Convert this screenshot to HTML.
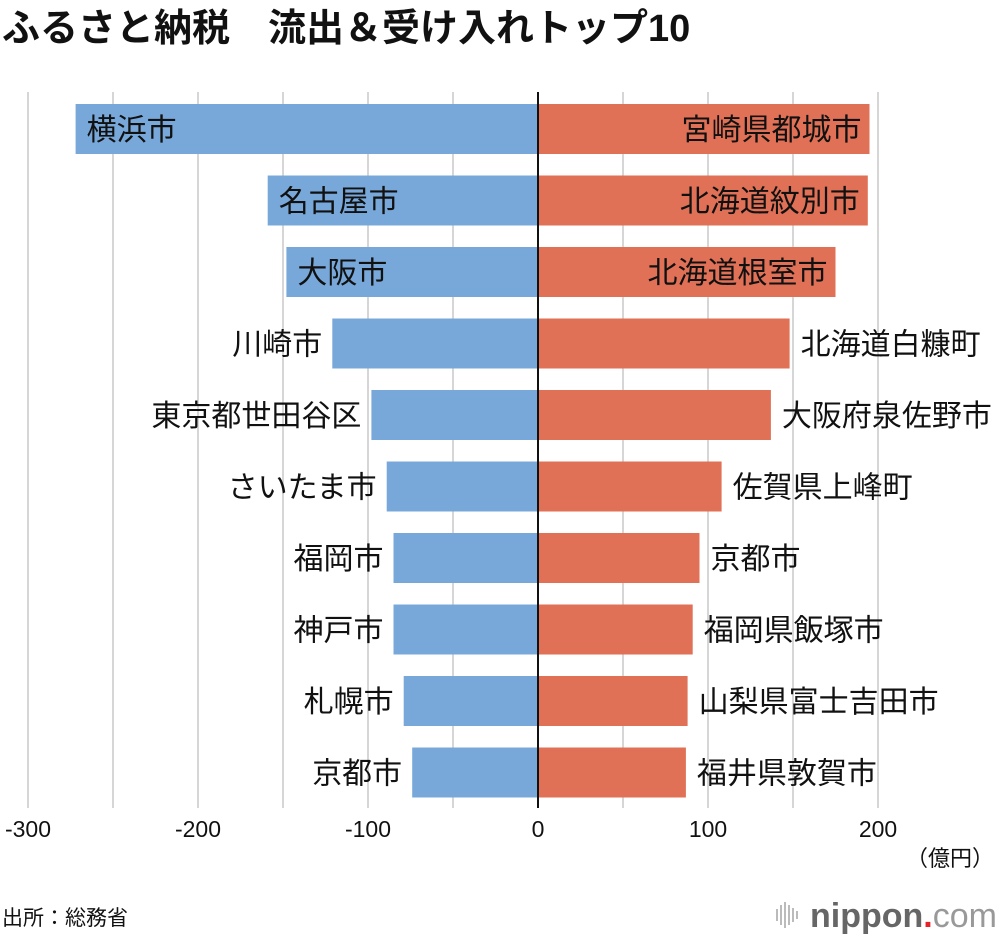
<!DOCTYPE html>
<html><head><meta charset="utf-8">
<style>
html,body{margin:0;padding:0;background:#fff;width:1000px;height:936px;overflow:hidden}
svg{display:block;font-family:"Liberation Sans","Noto Sans CJK JP",sans-serif}
</style></head><body>
<svg id="chart" width="1000" height="936" viewBox="0 0 1000 936">
<text x="2" y="41" font-size="38" font-weight="bold" fill="#111">ふるさと納税　流出＆受け入れトップ10</text>
<g id="grid"></g><g id="bars"></g><g id="labels"></g><g id="ticks"></g>
<text x="994" y="866" font-size="22" text-anchor="end" fill="#111">（億円）</text>
<text x="2" y="925" font-size="21" fill="#111">出所：総務省</text>
<g>
<g stroke="#bbb" stroke-width="2"><line x1="777" y1="909" x2="777" y2="921"/><line x1="781" y1="905" x2="781" y2="925"/><line x1="785" y1="902" x2="785" y2="928"/><line x1="789" y1="905" x2="789" y2="925"/><line x1="793" y1="908" x2="793" y2="922"/><line x1="797" y1="911" x2="797" y2="919"/></g>
<text x="810" y="927" font-size="34" font-weight="bold" fill="#666">nippon<tspan fill="#e8202a">.</tspan><tspan font-weight="normal" fill="#999">com</tspan></text>
</g>
</svg>
<script>
const outflowCities=["横浜市","名古屋市","大阪市","川崎市","東京都世田谷区","さいたま市","福岡市","神戸市","札幌市","京都市"];
const outflowValues=[272,159,148,121,98,89,85,85,79,74];
const inflowCities=["宮崎県都城市","北海道紋別市","北海道根室市","北海道白糠町","大阪府泉佐野市","佐賀県上峰町","京都市","福岡県飯塚市","山梨県富士吉田市","福井県敦賀市"];
const inflowValues=[195,194,175,148,137,108,95,91,88,87];
const tickValues=[-300,-200,-100,0,100,200];
const gridValues=[-300,-250,-200,-150,-100,-50,50,100,150,200];
const NS="http://www.w3.org/2000/svg";
const X=v=>538+v*1.70;
const Y=i=>129+i*71.5;
function mk(tag,attrs,parent){const e=document.createElementNS(NS,tag);for(const k in attrs)e.setAttribute(k,attrs[k]);document.getElementById(parent).appendChild(e);return e;}
gridValues.forEach(v=>{const l=mk('line',{x1:X(v),x2:X(v),y1:92,y2:808,stroke:'#d6d6d6','stroke-width':2},'grid');

});
tickValues.forEach(v=>{const t=mk('text',{x:X(v),y:837,'font-size':23,'text-anchor':'middle',fill:'#111'},'ticks');t.textContent=v;

});
const fs=30;
outflowValues.forEach((v,i)=>{
 const r=mk('rect',{x:X(-v),y:Y(i)-25,width:X(0)-X(-v),height:50,fill:'#78a8d9'},'bars');
 
 
 const inside=i<3;
 const t=mk('text',{x:inside?X(-v)+11:X(-v)-10,y:Y(i)+11,'font-size':fs,'text-anchor':inside?'start':'end',fill:'#111'},'labels');
 t.textContent=outflowCities[i];
 
 
});
inflowValues.forEach((v,i)=>{
 const r=mk('rect',{x:X(0),y:Y(i)-25,width:X(v)-X(0),height:50,fill:'#e07157'},'bars');
 
 
 const inside=i<3;
 const t=mk('text',{x:inside?X(v)-8:X(v)+11,y:Y(i)+11,'font-size':fs,'text-anchor':inside?'end':'start',fill:'#111'},'labels');
 t.textContent=inflowCities[i];
 
 
});
const z=mk('line',{x1:X(0),x2:X(0),y1:92,y2:808,stroke:'#111','stroke-width':2},'bars');


</script>
</body></html>
